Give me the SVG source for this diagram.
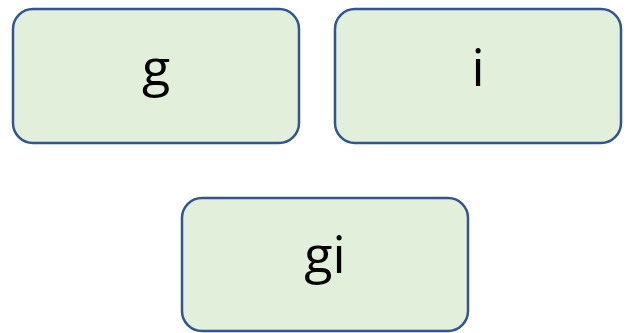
<svg xmlns="http://www.w3.org/2000/svg" width="630" height="333" viewBox="0 0 630 333">
<style>
.box{fill:#E2EFDA;stroke:#2F5597;stroke-width:2.5}
.lbl{font-family:"Open Sans","Noto Sans","Liberation Sans",sans-serif;font-size:52px;fill:#000;text-anchor:middle}
</style>
<rect width="630" height="333" fill="#fff"/>
<g id="node-g"><rect class="box" x="13" y="9" width="286" height="134" rx="20"/><text class="lbl" x="156" y="86">g</text></g>
<g id="node-i"><rect class="box" x="335" y="9" width="286" height="134" rx="20"/><text class="lbl" x="478" y="86">i</text></g>
<g id="node-gi"><rect class="box" x="182" y="198" width="286" height="133" rx="20"/><text class="lbl" x="325" y="273">gi</text></g>
<g id="connectors"></g>
</svg>
